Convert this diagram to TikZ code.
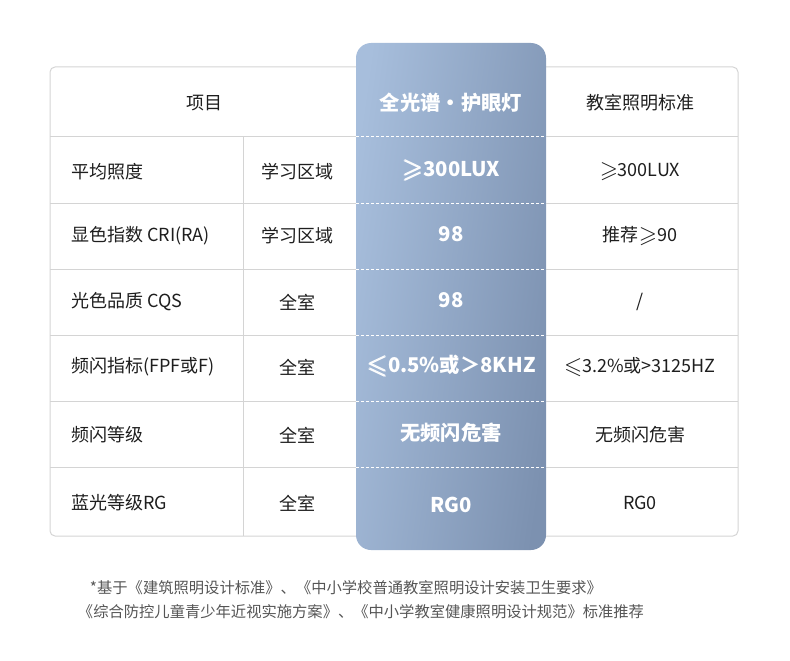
\documentclass[tikz,border=0pt]{standalone}
\usepackage{fontspec}
\usepackage{graphicx}
\usepackage{amssymb}
\usepackage{bm}
\setmainfont{Noto Sans CJK SC}
\definecolor{hlLight}{HTML}{A7BEDC}
\definecolor{hlDark}{HTML}{7C91B0}
\definecolor{gridGray}{HTML}{D4D4D4}
\definecolor{textDark}{HTML}{1E1E1E}
\definecolor{noteGray}{HTML}{555555}
\newcommand{\geqmark}{\raisebox{-0.05em}{\scalebox{1.3}{$\geqslant$}}}
\newcommand{\leqmark}{\raisebox{-0.05em}{\scalebox{1.3}{$\leqslant$}}}
\newcommand{\bgeqmark}{\raisebox{-0.05em}{\scalebox{1.3}{$\bm{\geqslant}$}}}
\newcommand{\bleqmark}{\raisebox{-0.05em}{\scalebox{1.3}{$\bm{\leqslant}$}}}

\begin{document}
\begin{tikzpicture}
    [x=1pt,y=-1pt,inner sep=0pt,
     cell/.style={text=textDark,font=\fontsize{18}{21}\selectfont},
     hl/.style={text=white,font=\fontsize{20.3}{23}\selectfont\bfseries},
     note/.style={text=noteGray,font=\fontsize{15.3}{18}\selectfont},
     grid/.style={draw=gridGray,line width=1pt},
     sep/.style={draw=white,line width=0.8pt,dash pattern=on 3pt off 2pt}]
    \useasboundingbox (0,0) rectangle (790,661);
    % table frame and rules
    \draw [grid,rounded corners=5] (50,67) rectangle (738,536);
    \foreach \y in {136,203,269,335,401,467}
      \draw [grid] (50,\y) -- (738,\y);
    \draw [grid] (243,136) -- (243,536);
    % highlighted column
    \shade [rounded corners=15,left color=hlLight,right color=hlDark,shading angle=82]
      (356,43) rectangle (546,550);
    \foreach \y in {136,203,269,335,401,467}
      \draw [sep] (356,\y) -- (546,\y);
    % header
    \node (item) at (204,103) [cell] {项目};
    \node (lamp) at (451,103) [hl] {全光谱·护眼灯};
    \node (std) at (640,103) [cell] {教室照明标准};
    % first column
    \node (n1) at (71,172) [cell,anchor=west] {平均照度};
    \node (n2) at (71,236) [cell,anchor=west] {显色指数 CRI(RA)};
    \node (n3) at (71,302) [cell,anchor=west] {光色品质 CQS};
    \node (n4) at (71,367) [cell,anchor=west] {频闪指标(FPF或F)};
    \node (n5) at (71,435) [cell,anchor=west] {频闪等级};
    \node (n6) at (71,503) [cell,anchor=west] {蓝光等级RG};
    % area column
    \node (a1) at (297,172) [cell] {学习区域};
    \node (a2) at (297,236) [cell] {学习区域};
    \node (a3) at (297,302) [cell] {全室};
    \node (a4) at (297,367) [cell] {全室};
    \node (a5) at (297,435) [cell] {全室};
    \node (a6) at (297,503) [cell] {全室};
    % lamp values
    \node (l1) at (451,170) [hl] {\bgeqmark300LUX};
    \node (l2) at (451,234) [hl] {98};
    \node (l3) at (451,300) [hl] {98};
    \node (l4) at (451,366) [hl] {\bleqmark0.5\%或＞8KHZ};
    \node (l5) at (451,433) [hl] {无频闪危害};
    \node (l6) at (451,505) [hl] {RG0};
    % standard values
    \node (s1) at (640,172) [cell] {\geqmark300LUX};
    \node (s2) at (640,236) [cell] {推荐\geqmark90};
    \node (s3) at (640,302) [cell] {/};
    \node (s4) at (640,367) [cell] {\leqmark3.2\%或>3125HZ};
    \node (s5) at (640,435) [cell] {无频闪危害};
    \node (s6) at (640,503) [cell] {RG0};
    % footnote
    \node (note1) at (346,588) [note] {*基于《建筑照明设计标准》、《中小学校普通教室照明设计安装卫生要求》};
    \node (note2) at (361,612) [note] {《综合防控儿童青少年近视实施方案》、《中小学教室健康照明设计规范》标准推荐};
  \end{tikzpicture}
\end{document}
